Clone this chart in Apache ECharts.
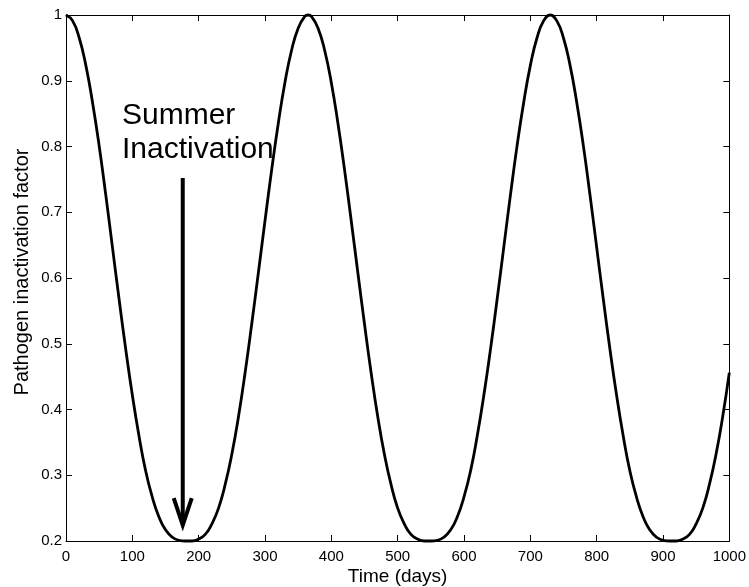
<!DOCTYPE html>
<html>
<head>
<meta charset="utf-8">
<script src="https://cdn.jsdelivr.net/npm/echarts@6/dist/echarts.min.js"></script>
<style>
html,body{margin:0;padding:0;background:#fff;}
#chart{width:749px;height:587px;}
</style>
</head>
<body>
<div id="chart"></div>
<script>
// Time (days) sample positions
const days = [0,10,20,30,40,50,60,70,80,90,100,110,120,130,140,150,160,170,180,190,200,210,220,230,240,250,260,270,280,290,300,310,320,330,340,350,360,365,370,380,390,400,410,420,430,440,450,460,470,480,490,500,510,520,530,540,550,560,570,580,590,600,610,620,630,640,650,660,670,680,690,700,710,720,730,740,750,760,770,780,790,800,810,820,830,840,850,860,870,880,890,900,910,920,930,940,950,960,970,980,990,1000];
// Pathogen inactivation factor
const factor = [1.000,0.991,0.965,0.923,0.867,0.801,0.726,0.647,0.568,0.492,0.422,0.360,0.307,0.267,0.237,0.217,0.206,0.201,0.200,0.200,0.203,0.210,0.226,0.250,0.286,0.332,0.389,0.456,0.530,0.608,0.687,0.764,0.835,0.897,0.946,0.980,0.998,
1.000,
0.998,0.980,0.946,0.897,0.835,0.764,0.687,0.608,0.530,0.456,0.389,0.332,0.286,0.250,0.226,0.210,0.203,0.200,0.200,0.201,0.206,0.217,0.237,0.267,0.307,0.360,0.422,0.492,0.568,0.647,0.726,0.801,0.867,0.923,0.965,0.991,
1.000,0.991,0.965,0.923,0.867,0.801,0.726,0.647,0.568,0.492,0.422,0.360,0.307,0.267,0.237,0.217,0.206,0.201,0.200,0.200,0.203,0.210,0.226,0.250,0.286,0.332,0.389,0.456];
const xTicks = [0,100,200,300,400,500,600,700,800,900,1000];
const yTicks = [0.2,0.3,0.4,0.5,0.6,0.7,0.8,0.9,1];
const xTitle = 'Time (days)';
const yTitle = 'Pathogen inactivation factor';
const annotationLines = ['Summer','Inactivation'];
// arrow annotation (data coordinates): tail and tip
const arrowTail = [176, 0.752];
const arrowTip = [176, 0.224];

const FONT = '"Liberation Sans", Arial, Helvetica, sans-serif';
const chart = echarts.init(document.getElementById('chart'), null, {renderer:'canvas'});

const seriesData = days.map((d,i)=>[d, factor[i]]);

const baseX = {
  type:'value', min:xTicks[0], max:xTicks[xTicks.length-1], interval:100,
  splitLine:{show:false},
  axisLine:{show:true, onZero:false, lineStyle:{color:'#000', width:1}},
  axisTick:{show:true, inside:true, length:6, lineStyle:{color:'#000', width:1}},
};
const baseY = {
  type:'value', min:yTicks[0], max:yTicks[yTicks.length-1], interval:0.1,
  splitLine:{show:false},
  axisLine:{show:true, onZero:false, lineStyle:{color:'#000', width:1}},
  axisTick:{show:true, inside:true, length:6, lineStyle:{color:'#000', width:1}},
};

chart.setOption({
  animation:false,
  backgroundColor:'#fff',
  grid:{left:66, right:15, top:15, bottom:46, containLabel:false},
  xAxis:[
    Object.assign({}, baseX, {position:'bottom',
      axisLabel:{show:true, margin:8, color:'#000', fontSize:15, fontFamily:FONT,
        formatter:v=>String(v)}}),
    Object.assign({}, baseX, {position:'top', axisLabel:{show:false}})
  ],
  yAxis:[
    Object.assign({}, baseY, {position:'left',
      axisLabel:{show:true, margin:4, color:'#000', fontSize:15, fontFamily:FONT,
        formatter:v=>String(Math.round(v*10)/10)}}),
    Object.assign({}, baseY, {position:'right', axisLabel:{show:false}})
  ],
  series:[{
    type:'line', xAxisIndex:0, yAxisIndex:0,
    data:seriesData, showSymbol:false, smooth:0.5,
    clip:false,
    lineStyle:{color:'#000', width:2.8, join:'round'},
    z:5
  }]
});

function drawAnnotations(){
  const tail = chart.convertToPixel({xAxisIndex:0, yAxisIndex:0}, arrowTail);
  const tip = chart.convertToPixel({xAxisIndex:0, yAxisIndex:0}, arrowTip);
  const headLen = 27, headHalf = 9;
  const gl = chart.convertToPixel({xAxisIndex:0, yAxisIndex:0}, [0, 0.2]);
  const gr = chart.convertToPixel({xAxisIndex:0, yAxisIndex:0}, [1000, 1]);
  const midX = (gl[0]+gr[0])/2;
  chart.setOption({
    graphic:[
      {type:'text', x:122, y:99, z:10,
        style:{text:annotationLines.join('\n'), font:'30px '+FONT, fill:'#000',
          lineHeight:34, align:'left', verticalAlign:'top'}},
      {type:'line', z:10, shape:{x1:tail[0], y1:tail[1], x2:tip[0], y2:tip[1]-2},
        style:{stroke:'#000', lineWidth:4}},
      {type:'polyline', z:10, shape:{points:[[tip[0]-headHalf, tip[1]-headLen],[tip[0], tip[1]],[tip[0]+headHalf, tip[1]-headLen]]},
        style:{stroke:'#000', lineWidth:4, fill:null, lineJoin:'miter'}},
      {type:'text', z:10, x:midX, y:577,
        style:{text:xTitle, font:'19px '+FONT, fill:'#000', align:'center', verticalAlign:'middle'}},
      {type:'text', z:10, x:22, y:272, rotation:Math.PI/2,
        style:{text:yTitle, font:'20px '+FONT, fill:'#000', align:'center', verticalAlign:'middle'}}
    ]
  });
}
drawAnnotations();
</script>
</body>
</html>
